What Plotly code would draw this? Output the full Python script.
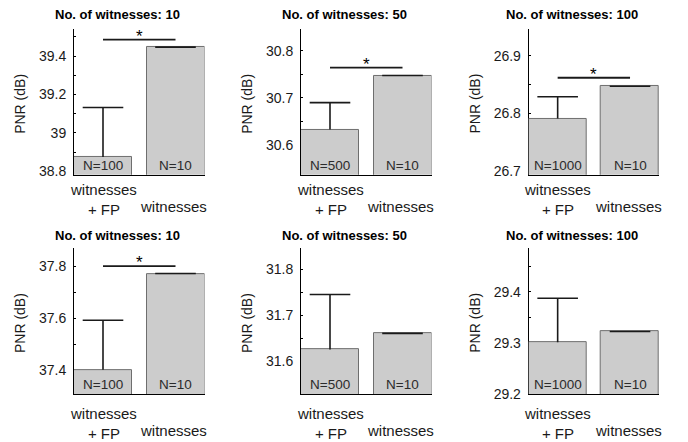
import plotly.graph_objects as go

# PNR of witnesses + false positives vs. witnesses only
witness_counts = [10, 50, 100, 10, 50, 100]
fp_mean = [38.875, 30.633, 26.791, 37.402, 31.625, 29.301]
fp_err = [0.257, 0.057, 0.038, 0.190, 0.120, 0.086]
wit_mean = [39.446, 30.747, 26.847, 37.771, 31.660, 29.322]
wit_err = [0.0006, 0.0003, 0.0002, 0.0006, 0.0003, 0.0002]
fp_n = ["N=100", "N=500", "N=1000", "N=100", "N=500", "N=1000"]
wit_n = ["N=10", "N=10", "N=10", "N=10", "N=10", "N=10"]
sig_level = [39.486, 30.764, 26.862, 37.800, None, None]
y_ranges = [
    [38.782, 39.541],
    [30.537, 30.846],
    [26.693, 26.947],
    [37.309, 37.869],
    [31.528, 31.846],
    [29.200, 29.485],
]
y_dtick = [0.2, 0.1, 0.1, 0.2, 0.1, 0.1]
x_positions = [1, 2]

W, H = 688, 442
col_px = [(74, 204.5), (301, 431.5), (528.7, 659)]
row_px = [(29.5, 178), (252.7, 401.3)]

FONT = "Liberation Sans, Arial, sans-serif"
BAR_FILL = "#cccccc"
BAR_EDGE = "#6e6e6e"
INK = "#1a1a1a"

fig = go.Figure()
annotations = []
layout = {}

for i in range(6):
    r, c = divmod(i, 3)
    k = "" if i == 0 else str(i + 1)
    xa, ya = "x" + k, "y" + k
    x0, x1 = col_px[c]
    top, bot = row_px[r]
    means = [fp_mean[i], wit_mean[i]]
    errs = [fp_err[i], wit_err[i]]

    # bars with an upper-only error stem (no cap at the bar top)
    fig.add_trace(go.Bar(
        x=x_positions, y=means, width=0.8,
        marker=dict(color=BAR_FILL, line=dict(color=BAR_EDGE, width=1)),
        error_y=dict(
            type="data", symmetric=False, array=errs, arrayminus=[0, 0],
            color=INK, thickness=1.6, width=0,
        ),
        xaxis=xa, yaxis=ya, showlegend=False, hoverinfo="skip",
    ))
    # caps at the upper end of each error bar
    fig.add_trace(go.Scatter(
        x=x_positions, y=[m + e for m, e in zip(means, errs)],
        mode="markers",
        marker=dict(symbol="line-ew", size=29, color=INK,
                    line=dict(color=INK, width=1.6)),
        xaxis=xa, yaxis=ya, showlegend=False, hoverinfo="skip",
        cliponaxis=False,
    ))

    if sig_level[i] is not None:
        fig.add_trace(go.Scatter(
            x=x_positions, y=[sig_level[i], sig_level[i]],
            mode="lines", line=dict(color=INK, width=1.8),
            xaxis=xa, yaxis=ya, showlegend=False, hoverinfo="skip",
        ))
        annotations.append(dict(
            x=1.5, y=sig_level[i], xref=xa, yref=ya,
            text="*", showarrow=False, yanchor="bottom", yshift=-8,
            font=dict(family=FONT, size=17, color="#000000"),
        ))

    layout["xaxis" + k] = dict(
        domain=[x0 / W, x1 / W], range=[0.6, 2.4], anchor=ya,
        showticklabels=False, ticks="", showgrid=False, zeroline=False,
        showline=True, linecolor="#000000", linewidth=1, layer="below traces",
        fixedrange=True,
    )
    layout["yaxis" + k] = dict(
        domain=[1 - bot / H, 1 - top / H], range=y_ranges[i], anchor=xa,
        dtick=y_dtick[i], tick0=0, ticks="inside", ticklen=2, tickcolor="#000000",
        minor=dict(dtick=y_dtick[i] / 2, tick0=0, ticks="inside", ticklen=2,
                   tickcolor="#000000", showgrid=False),
        showgrid=False, zeroline=False, showline=True, linecolor="#000000",
        linewidth=1, layer="below traces", ticklabelstandoff=4,
        tickfont=dict(family=FONT, size=14, color=INK), fixedrange=True,
    )

    # bar counts at the foot of each bar
    for xv, label in zip(x_positions, [fp_n[i], wit_n[i]]):
        annotations.append(dict(
            x=xv, y=0, xref=xa, yref=ya + " domain", text=label,
            showarrow=False, yanchor="bottom", yshift=0,
            font=dict(family=FONT, size=13.5, color="#2b2b2b"),
        ))

    # category labels under the axis
    annotations.append(dict(
        x=1, y=0, xref=xa, yref=ya + " domain", text="witnesses<br>+ FP",
        showarrow=False, yanchor="middle", yshift=-25 - 4 * r,
        font=dict(family=FONT, size=15, color=INK),
    ))
    annotations.append(dict(
        x=2, y=0, xref=xa, yref=ya + " domain", text="witnesses",
        showarrow=False, yanchor="middle", yshift=-32 - 4 * r, xshift=-2,
        font=dict(family=FONT, size=15, color=INK),
    ))

    # panel title
    annotations.append(dict(
        x=(x0 + 43) / W, y=1 - (15 + r * 225) / H, xref="paper", yref="paper",
        text="<b>No. of witnesses: %d</b>" % witness_counts[i],
        showarrow=False, xanchor="center", yanchor="middle",
        font=dict(family=FONT, size=13, color="#000000"),
    ))

    # y-axis title
    annotations.append(dict(
        x=(x0 - 54) / W, y=1 - ((top + bot) / 2 + 2) / H, xref="paper", yref="paper",
        text="PNR (dB)", textangle=-90, showarrow=False,
        xanchor="center", yanchor="middle",
        font=dict(family=FONT, size=14, color=INK),
    ))

fig.update_layout(
    width=W, height=H,
    margin=dict(l=0, r=0, t=0, b=0),
    paper_bgcolor="white", plot_bgcolor="white",
    bargap=0, annotations=annotations,
    **layout,
)

fig.write_html("out.html", config={"displayModeBar": False})
